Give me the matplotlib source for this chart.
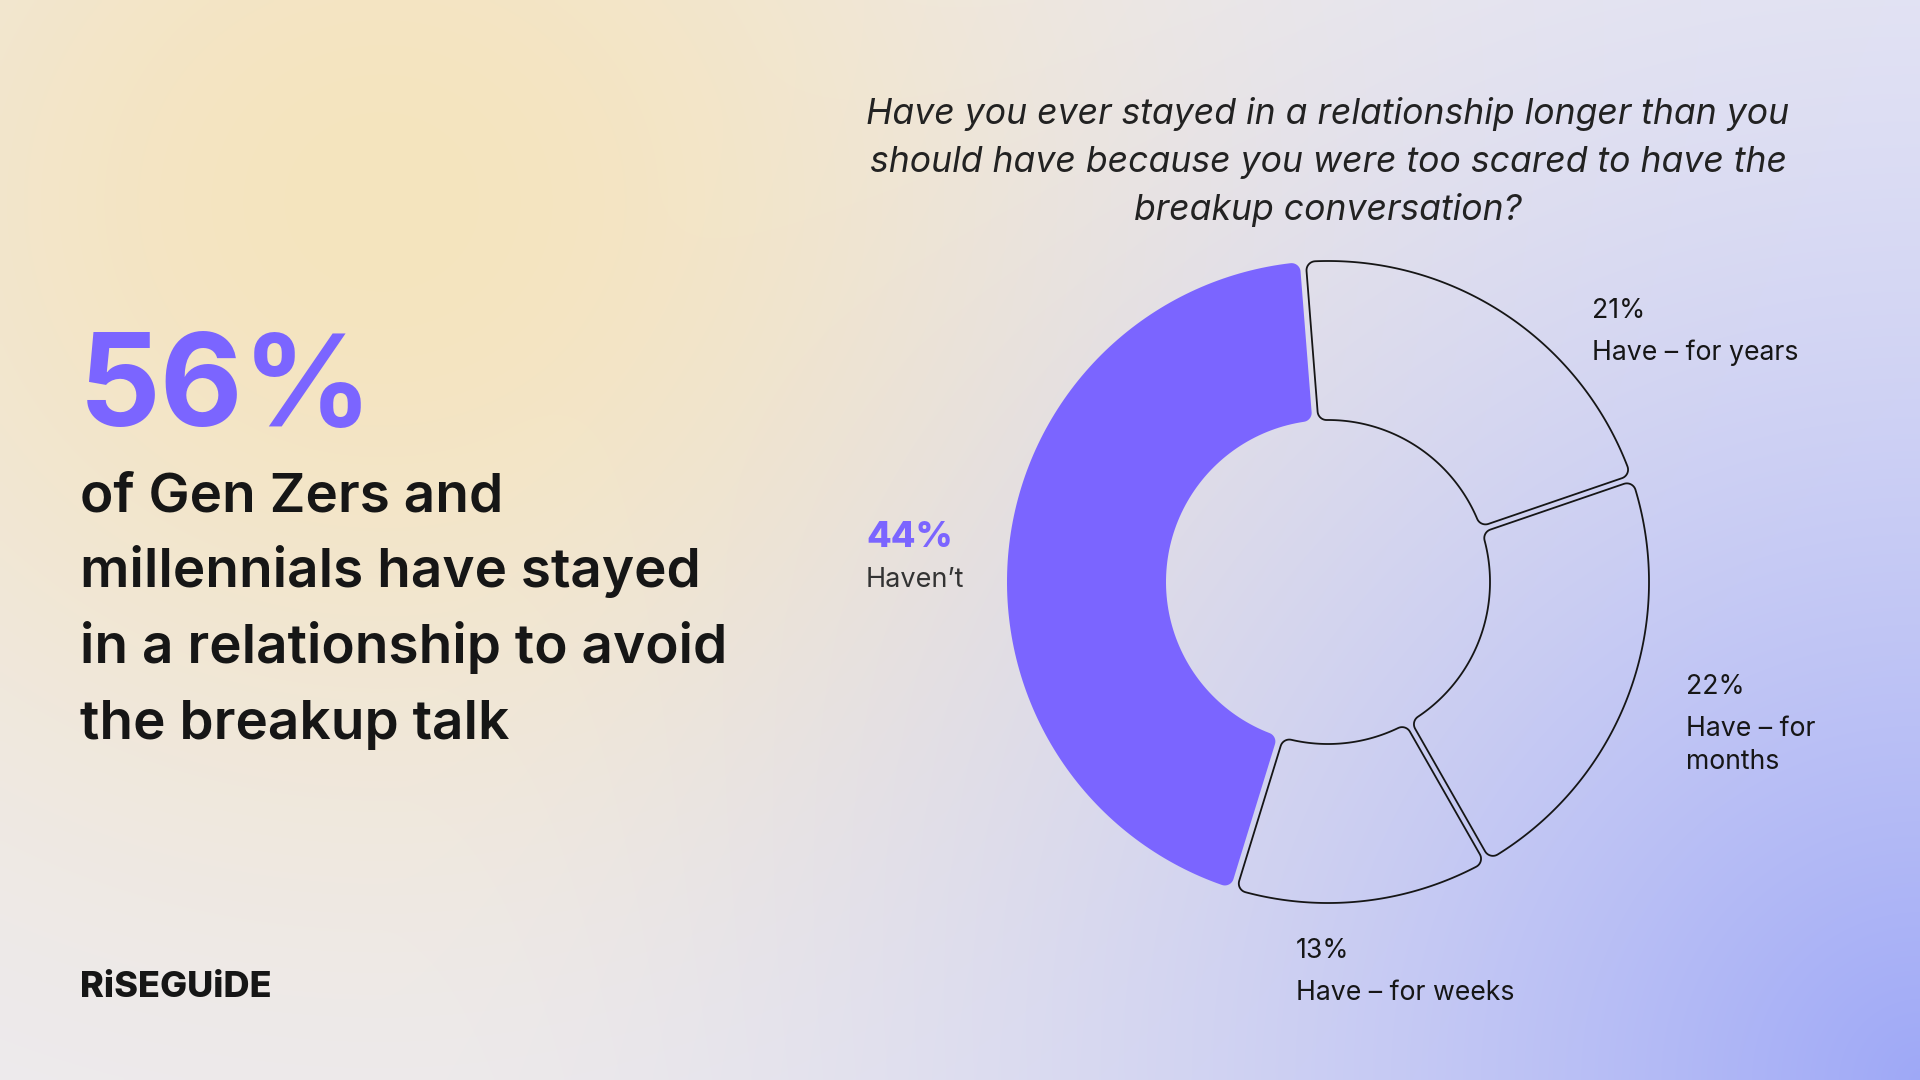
import numpy as np
import matplotlib.pyplot as plt
from matplotlib.patches import Polygon

W, H = 1920, 1080

categories = ["Have – for years", "Have – for months", "Have – for weeks", "Haven’t"]
label_lines = ["Have – for years", "Have – for\nmonths", "Have – for weeks", "Haven’t"]
values = [21, 22, 13, 44]
headline_value = 56
headline_text = ["of Gen Zers and", "millennials have stayed",
                 "in a relationship to avoid", "the breakup talk"]
question = ["Have you ever stayed in a relationship longer than you",
            "should have because you were too scared to have the",
            "breakup conversation?"]

PURPLE = "#7B65FF"
INK = "#161616"
plt.rcParams['font.family'] = ['Inter', 'DejaVu Sans']

fig = plt.figure(figsize=(W / 100, H / 100), dpi=100)

# background gradient
bg = fig.add_axes([0, 0, 1, 1])
yy, xx = np.mgrid[0:H:4, 0:W:4]
base = np.array([236, 235, 243]) / 255
yellow = np.array([245, 228, 190]) / 255
blue = np.array([158, 168, 247]) / 255
wy = np.exp(-(((xx - 380) / 500) ** 2 + ((yy - 200) / 460) ** 2) / 2)
dist = np.hypot(xx - W, yy - H)
wb = np.clip(1 - dist / 1550, 0, 1) ** 1.7
img = base + wy[..., None] * (yellow - base) + wb[..., None] * (blue - base)
bg.imshow(np.clip(img, 0, 1), extent=(0, W, H, 0), aspect='auto', interpolation='bilinear')
bg.set_xlim(0, W)
bg.set_ylim(H, 0)
bg.axis('off')


def px(x, y):
    return x / W, 1 - y / H


# left side text
fig.text(*px(79, 426), f"{headline_value}%", fontsize=92, fontweight='bold',
         color=PURPLE, va='baseline', ha='left')
for i, line in enumerate(headline_text):
    fig.text(*px(80, 512 + 75.5 * i), line, fontsize=39.5, fontweight='semibold',
             color=INK, va='baseline', ha='left')
fig.text(*px(80, 997), "RiSEGUiDE", fontsize=26, fontweight='heavy',
         color=INK, va='baseline', ha='left')

# question
for i, line in enumerate(question):
    fig.text(*px(1328, 124 + 48 * i), line, fontsize=25.6, style='italic',
             color="#222222", va='baseline', ha='center')

# donut
cx, cy = 1328, 582
R, r = 321, 162
gap, rc = 6, 9
ax = fig.add_axes([(cx - 350) / W, (H - cy - 350) / H, 700 / W, 700 / H])
ax.set_xlim(-350, 350)
ax.set_ylim(-350, 350)
ax.axis('off')


def arc(c, rad, a, b, m):
    t = np.linspace(a, b, m)
    return np.column_stack([c[0] + rad * np.cos(t), c[1] + rad * np.sin(t)])


def rounded_sector(t1, t2):
    d = gap / 2 + rc
    ro, ri = R - rc, r + rc
    po1, po2 = t1 + np.arcsin(d / ro), t2 - np.arcsin(d / ro)
    pi1, pi2 = t1 + np.arcsin(d / ri), t2 - np.arcsin(d / ri)
    u = lambda a: np.array([np.cos(a), np.sin(a)])
    return np.vstack([
        arc((0, 0), R, po1, po2, 150),
        arc(ro * u(po2), rc, po2, t2 + np.pi / 2, 12),
        arc(ri * u(pi2), rc, t2 + np.pi / 2, pi2 + np.pi, 12),
        arc((0, 0), r, pi2, pi1, 100),
        arc(ri * u(pi1), rc, pi1 + np.pi, t1 + 1.5 * np.pi, 12),
        arc(ro * u(po1), rc, t1 + 1.5 * np.pi, po1 + 2 * np.pi, 12),
    ])


start = 94.5
for cat, v in zip(categories, values):
    t2 = np.radians(start)
    t1 = np.radians(start - v * 3.6)
    start -= v * 3.6
    pts = rounded_sector(t1, t2)
    if cat == "Haven’t":
        ax.add_patch(Polygon(pts, closed=True, facecolor=PURPLE, edgecolor='none'))
    else:
        ax.add_patch(Polygon(pts, closed=True, facecolor='none',
                             edgecolor=INK, linewidth=1.3))

# labels
label_pos = [(1592, 318), (1686, 694), (1296, 958), (866, 547)]
for cat, v, lab, (x, y) in zip(categories, values, label_lines, label_pos):
    if cat == "Haven’t":
        fig.text(*px(x, y), f"{v}%", fontsize=26, fontweight='heavy',
                 color=PURPLE, va='baseline', ha='left')
        fig.text(*px(x, y + 40), lab, fontsize=19.5, color="#333333",
                 va='baseline', ha='left')
    else:
        fig.text(*px(x, y), f"{v}%", fontsize=19.2, color=INK,
                 va='baseline', ha='left')
        for j, part in enumerate(lab.split("\n")):
            fig.text(*px(x, y + 42 + 33 * j), part, fontsize=19.2, color=INK,
                     va='baseline', ha='left')

fig.savefig("out.png", dpi=100)
